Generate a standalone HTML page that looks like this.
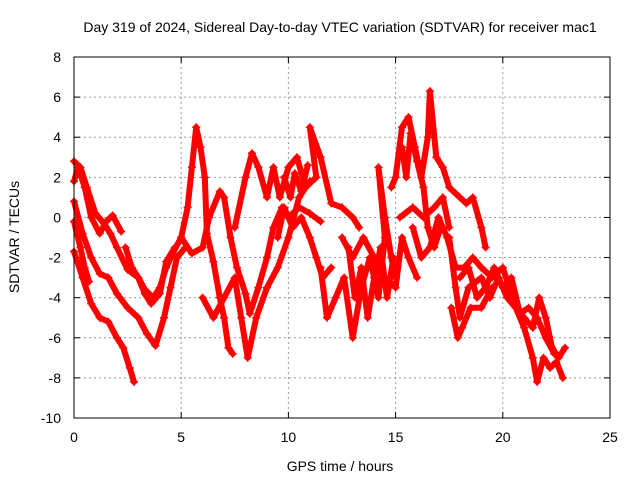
<!DOCTYPE html>
<html><head><meta charset="utf-8"><style>
body{margin:0;background:#fff;}
svg{display:block;font-family:"Liberation Sans",sans-serif;}
</style></head><body>
<svg id="chart" width="640" height="480">
<text x="340" y="32" text-anchor="middle" font-size="14">Day 319 of 2024, Sidereal Day-to-day VTEC variation (SDTVAR) for receiver mac1</text>
<g id="grid"></g>
<g id="ticks"></g>
<g id="series"></g>
<rect x="74" y="57" width="536" height="361" fill="none" stroke="#000" stroke-width="1"/>
<text x="340" y="471" text-anchor="middle" font-size="14">GPS time / hours</text>
<text transform="translate(19,237) rotate(-90)" text-anchor="middle" font-size="14">SDTVAR / TECUs</text>
</svg>
<script>
const xTicks=[0,5,10,15,20,25];
const yTicks=[-10,-8,-6,-4,-2,0,2,4,6,8];
const track1=[[0,2.8],[0.3,2.5],[0.6,1.5],[1,0.2],[1.4,-0.3],[1.7,-0.8],[2,-1.5],[2.5,-2.6],[3,-3],[3.3,-3.6],[3.7,-4],[4,-3.5],[4.3,-2.5],[4.6,-1.8],[5,-1],[5.3,0.5],[5.5,2.5],[5.7,4.5],[5.9,3.5],[6.1,2],[6.2,-0.8],[6.5,-2.2],[6.8,-4],[7,-5],[7.2,-6.5],[7.4,-6.8]];
const track2=[[0,1.8],[0.2,2.5],[0.5,1.5],[0.8,0],[1.2,-0.8],[1.5,-0.2],[1.8,0.1],[2.2,-0.7]];
const track3=[[0,0.8],[0.4,-0.8],[0.8,-2],[1.2,-2.8],[1.6,-3],[2,-3.8],[2.5,-4.5],[3,-5],[3.4,-5.8],[3.8,-6.4],[4.2,-5],[4.5,-3.5],[4.8,-2],[5.2,-1.5]];
const track4=[[0,-1.7],[0.4,-3],[0.8,-4.3],[1.2,-5],[1.6,-5.2],[2,-6],[2.3,-6.5],[2.6,-7.5],[2.8,-8.2]];
const track5=[[2.4,-1.5],[2.7,-2.5],[3,-3],[3.3,-3.8],[3.6,-4.3],[4,-3.8],[4.3,-2.2],[4.7,-1.5]];
const track6=[[0,-0.2],[0.3,-1.5],[0.5,-2.5],[0.7,-3.2]];
const track7=[[5,-1],[5.5,-1.8],[6,-1.5],[6.3,0],[6.8,1.3],[7,1],[7.3,-1],[7.6,-2.5],[8,-3.8],[8.2,-4.8],[8.6,-3.5],[9,-2],[9.3,-0.5],[9.7,0.5],[10,0],[10.5,0.5],[11,0.2],[11.5,-0.2]];
const track8=[[6,-4],[6.5,-5],[7,-4],[7.5,-3],[7.8,-5],[8.1,-7],[8.5,-5],[9,-3.5],[9.5,-2.5],[10,-1],[10.5,1],[11,1.8]];
const track9=[[7.5,-0.5],[8,2],[8.3,3.2],[8.6,2.5],[9,1],[9.3,2.5],[9.6,1],[10,2.5],[10.4,3],[10.8,1.5],[11.3,2],[11,4.5],[11.5,3],[12,0.7],[12.5,0.5],[13,0],[13.3,-0.5]];
const track10=[[11.5,-2.5],[11.8,-5],[12.2,-4],[12.6,-3],[13,-6],[13.4,-3.5],[13.8,-2],[14.2,-4],[14.5,-1],[14.2,2.5],[14.5,0],[14.8,-2],[15,-3]];
const track11=[[12.5,-1],[13,-2],[13.5,-1],[14,-2],[14.5,-3],[15,-3.5],[15.3,-1],[15.6,-2],[16,-3]];
const track12=[[14.8,1.5],[15,2],[15.3,4.5],[15.6,5],[15.9,3.5],[16.2,2],[16.5,4],[16.6,6.3],[16.9,3],[17.2,2.5],[17.5,1.5],[18,1],[18.3,0.7],[18.6,1],[19,-0.5],[19.2,-1.5]];
const track13=[[15.8,-0.5],[16.2,-2],[16.6,-1.5],[17,0],[17.4,-1],[17.8,-2.5],[18.2,-2.5],[18.6,-2],[19,-2.5],[19.5,-3],[20,-2.5],[20.3,-3.5],[20.6,-4.5],[21,-5],[21.4,-5.5],[21.7,-4],[22,-5],[22.3,-6.5],[22.6,-7],[22.9,-6.5]];
const track14=[[17.5,-1],[17.8,-3.5],[18,-5],[18.4,-3.5],[19,-3],[19.4,-4],[19.8,-3],[20.2,-4],[20.6,-4.5],[21,-5.5],[21.4,-7],[21.6,-8.2],[21.9,-7],[22.2,-7.5],[22.5,-7.2],[22.8,-8]];
const track15=[[15.2,0],[15.8,0.5],[16.3,0],[16.8,0.5],[17.2,1],[17.5,-0.5]];
const track16=[[9.5,-1],[9.8,0.5],[10.2,-0.5],[10.6,0],[11,-1],[11.3,-2],[11.6,-3],[12,-2.5]];
const track17=[[12.8,-1.5],[13.1,-4],[13.4,-2.5],[13.7,-5],[14,-3],[14.3,-1.5],[14.6,-4],[14.9,-2]];
const track18=[[18,-3],[18.4,-2.5],[18.8,-4],[19.2,-3.5],[19.6,-2.5],[20,-3.5],[20.4,-3],[20.8,-4.8],[21.2,-4.5],[21.6,-5],[22,-6],[22.4,-6.8]];
const track19=[[17.6,-4.5],[17.9,-6],[18.1,-5.5],[18.5,-4.5],[19,-4.5],[19.5,-3.5]];
const track20=[[15.3,3.5],[15.5,2],[15.7,4.2],[16,2.8],[16.3,1.5],[16.5,-0.5],[16.8,-1.5],[17.1,-0.5]];
const track21=[[9.8,2],[10.1,1],[10.3,2.2],[10.6,1.3],[10.9,2.6]];
const tracks=[track1,track2,track3,track4,track5,track6,track7,track8,track9,track10,track11,track12,track13,track14,track15,track16,track17,track18,track19,track20,track21];

const NS='http://www.w3.org/2000/svg';
const X0=74,X1=610,Y0=418,Y1=57;
const xScale=t=>X0+(t-0)/(25-0)*(X1-X0);
const yScale=v=>Y0-(v-(-10))/(8-(-10))*(Y0-Y1);
const grid=document.getElementById('grid'),ticks=document.getElementById('ticks'),series=document.getElementById('series');
function mk(tag,attrs,parent){const e=document.createElementNS(NS,tag);for(const k in attrs)e.setAttribute(k,attrs[k]);parent.appendChild(e);return e;}
xTicks.forEach(t=>{
  const x=xScale(t);
  if(t>0&&t<25){const g=mk('line',{x1:x,x2:x,y1:Y1,y2:Y0,stroke:'#999','stroke-dasharray':'2,3'},grid);
  
  }
  mk('line',{x1:x,x2:x,y1:Y0,y2:Y0-6,stroke:'#000'},ticks);
  mk('line',{x1:x,x2:x,y1:Y1,y2:Y1+6,stroke:'#000'},ticks);
  const l=mk('text',{x:x,y:Y0+24,'text-anchor':'middle','font-size':'14'},ticks);
  l.textContent=t;
  
  
});
yTicks.forEach(v=>{
  const y=yScale(v);
  if(v>-10&&v<8){const g=mk('line',{x1:X0,x2:X1,y1:y,y2:y,stroke:'#999','stroke-dasharray':'2,3'},grid);
  
  }
  mk('line',{x1:X0,x2:X0+6,y1:y,y2:y,stroke:'#000'},ticks);
  mk('line',{x1:X1,x2:X1-6,y1:y,y2:y,stroke:'#000'},ticks);
  const l=mk('text',{x:X0-13,y:y+5,'text-anchor':'end','font-size':'14'},ticks);
  l.textContent=v;
  
  
});
tracks.forEach((tr,i)=>{
  const pts=tr.map(p=>xScale(p[0]).toFixed(1)+','+yScale(p[1]).toFixed(1)).join(' ');
  const pl=mk('polyline',{points:pts,fill:'none',stroke:'#f00','stroke-width':'6','stroke-linejoin':'round','stroke-linecap':'round'},series);
  
  
  tr.forEach(p=>{
    const x=xScale(p[0]),y=yScale(p[1]);
    const m=mk('path',{d:`M${x-4},${y}H${x+4}M${x},${y-4}V${y+4}`,stroke:'#f00','stroke-width':'1.5'},series);
    
    
  });
});
</script>
</body></html>
